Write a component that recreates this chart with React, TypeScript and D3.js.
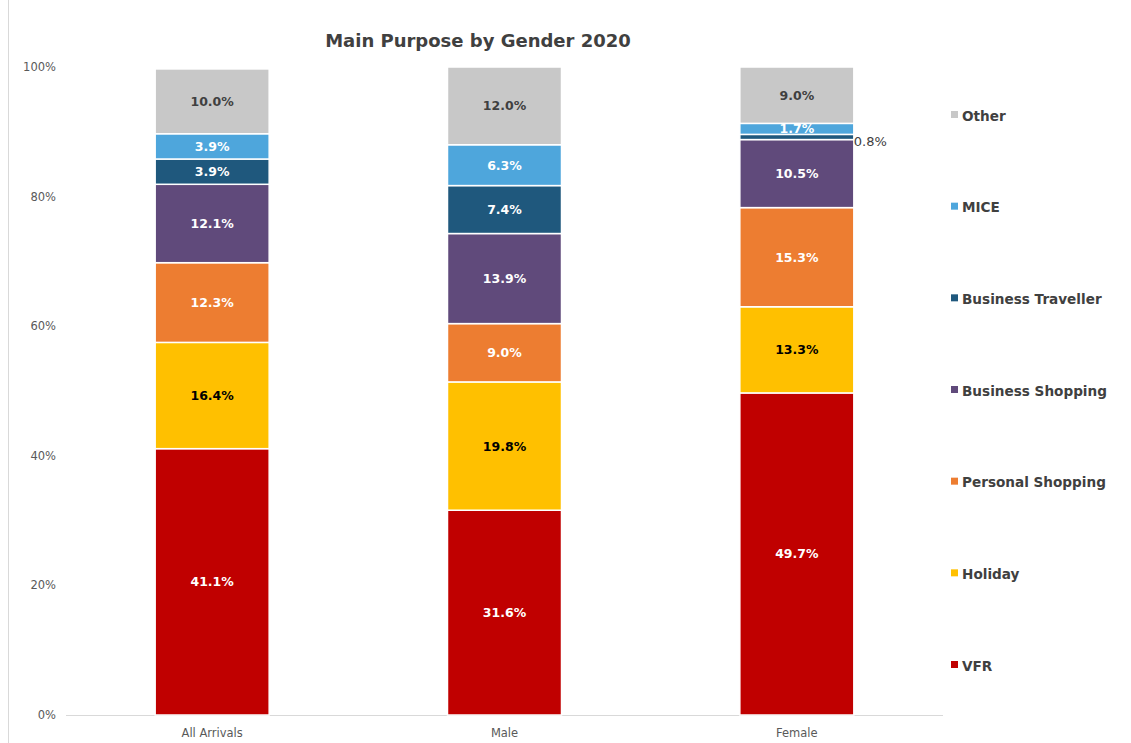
import React from "react";
import * as d3 from "d3";

const categories = ["All Arrivals", "Male", "Female"];
const seriesNames = ["VFR", "Holiday", "Personal Shopping", "Business Shopping", "Business Traveller", "MICE", "Other"];
const seriesColors = ["#C00000", "#FFC000", "#ED7D31", "#604A7B", "#1F587D", "#4EA6DC", "#C8C8C8"];
const labelColors = ["#FFFFFF", "#000000", "#FFFFFF", "#FFFFFF", "#FFFFFF", "#FFFFFF", "#404040"];
const vfr = [41.1, 31.6, 49.7];
const holiday = [16.4, 19.8, 13.3];
const personalShopping = [12.3, 9.0, 15.3];
const businessShopping = [12.1, 13.9, 10.5];
const businessTraveller = [3.9, 7.4, 0.8];
const mice = [3.9, 6.3, 1.7];
const other = [10.0, 12.0, 9.0];
const yTicks = [0, 20, 40, 60, 80, 100];

const seriesValues = [vfr, holiday, personalShopping, businessShopping, businessTraveller, mice, other];

export default function App() {
  const W = 1131, H = 743;
  const left = 66, right = 943, top = 67, bottom = 715;
  const x = d3.scaleBand().domain(categories).range([left, right]).paddingInner(0.61).paddingOuter(0.305);
  const y = d3.scaleLinear().domain([0, 100]).range([bottom, top]).clamp(true);
  const rows = categories.map((c, i) => {
    const r: any = { cat: c };
    seriesNames.forEach((s, j) => (r[s] = seriesValues[j][i]));
    return r;
  });
  const stacked = d3.stack().keys(seriesNames)(rows);
  const font = "'DejaVu Sans', Verdana, sans-serif";
  const legendY = d3.scalePoint().domain([...seriesNames].reverse()).range([115, 665]);

  return (
    <svg width={W} height={H} style={{ position: "absolute", left: 0, top: 0, background: "#fff" }} fontFamily={font}>
      <line x1={8.5} x2={8.5} y1={0} y2={H} stroke="#D9D9D9" />
      <text x={478} y={47} textAnchor="middle" fontSize={18} fontWeight="bold" fill="#404040">Main Purpose by Gender 2020</text>
      {yTicks.map((t) => (
        <text key={t} x={56} y={y(t) + 4} textAnchor="end" fontSize={11.5} fill="#595959">{t}%</text>
      ))}
      <line x1={left} x2={right} y1={bottom + 0.5} y2={bottom + 0.5} stroke="#D9D9D9" strokeWidth={1} />
      {stacked.map((layer, j) => (
        <g key={layer.key}>
          {layer.map((d, i) => {
            const cat = categories[i];
            const x0 = x(cat)!;
            const y0 = y(d[1]);
            const y1 = y(d[0]);
            const val = seriesValues[j][i];
            const h = y1 - y0;
            const small = h < 10;
            return (
              <g key={cat}>
                <rect x={x0} y={y0} width={x.bandwidth()} height={Math.max(0, h)} fill={seriesColors[j]} stroke="#FFFFFF" strokeWidth={1.5} />
                {small ? (
                  <text x={x0 + x.bandwidth()} y={(y0 + y1) / 2 + 9} fontSize={13} fill="#404040">{val.toFixed(1)}%</text>
                ) : (
                  <text x={x0 + x.bandwidth() / 2} y={(y0 + y1) / 2 + 4.5} textAnchor="middle" fontSize={12.5} fontWeight="bold" fill={labelColors[j]}>{val.toFixed(1)}%</text>
                )}
              </g>
            );
          })}
        </g>
      ))}
      {categories.map((c) => (
        <text key={c} x={x(c)! + x.bandwidth() / 2} y={737} textAnchor="middle" fontSize={11.5} fill="#595959">{c}</text>
      ))}
      {seriesNames.map((s, j) => (
        <g key={s}>
          <rect x={951} y={legendY(s)! - 4} width={7} height={7} fill={seriesColors[j]} />
          <text x={962} y={legendY(s)! + 5.5} fontSize={13.6} fontWeight="bold" fill="#404040">{s}</text>
        </g>
      ))}
    </svg>
  );
}
